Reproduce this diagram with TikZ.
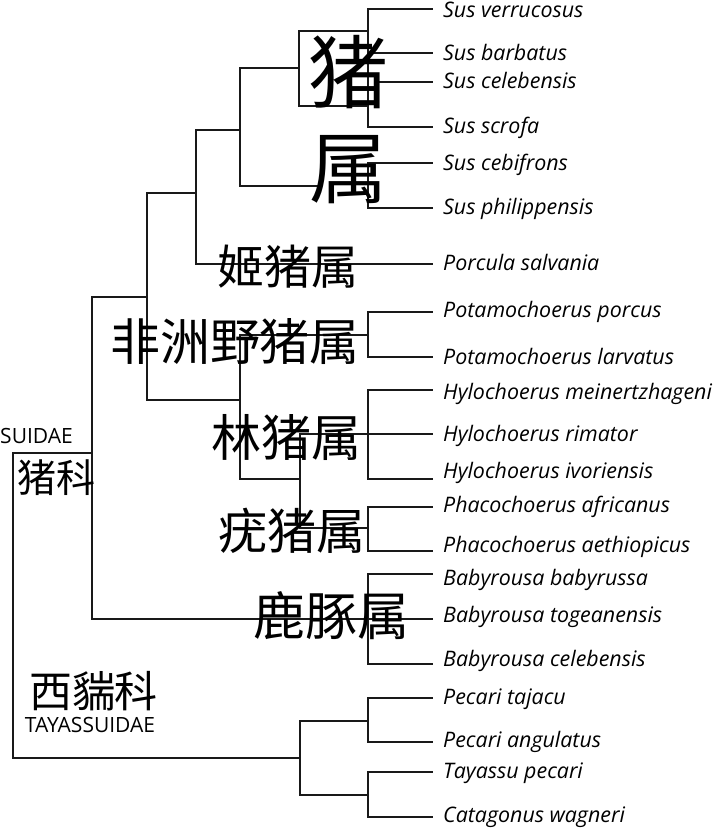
\documentclass[tikz,border=0pt]{standalone}
\usepackage{fontspec}
\setmainfont{Open Sans}
\newfontfamily\cjk{Noto Sans CJK SC}
\begin{document}
\begin{tikzpicture}[x=1pt,y=-1pt,
  br/.style={line width=1.3pt, draw=black!90, line cap=rect},
  sp/.style={anchor=base west, inner sep=0pt, font=\fontsize{21.4}{21.4}\selectfont\itshape},
  gen/.style={inner sep=0pt, anchor=center},
  fam/.style={inner sep=0pt, anchor=center, font=\fontsize{21}{21}\selectfont}]
\useasboundingbox (0,0) rectangle (720,828);
% leaf ends
\foreach \n/\y in {1/9,2/53,3/82,4/127,5/163,6/208,7/264,8/312,9/357,10/390,11/434,12/479,13/507,14/551,15/574,16/619,17/664,18/698,19/742,20/772,21/817}
  \coordinate (e\n) at (432,\y);
% labels
\node[sp] (l1) at (443,17) {Sus verrucosus};
\node[sp] (l2) at (443,60) {Sus barbatus};
\node[sp] (l3) at (443,88) {Sus celebensis};
\node[sp] (l4) at (443,133) {Sus scrofa};
\node[sp] (l5) at (443,170) {Sus cebifrons};
\node[sp] (l6) at (443,214) {Sus philippensis};
\node[sp] (l7) at (443,270) {Porcula salvania};
\node[sp] (l8) at (443,317) {Potamochoerus porcus};
\node[sp] (l9) at (443,364) {Potamochoerus larvatus};
\node[sp] (l10) at (443,399) {Hylochoerus meinertzhageni};
\node[sp] (l11) at (443,441) {Hylochoerus rimator};
\node[sp] (l12) at (443,478) {Hylochoerus ivoriensis};
\node[sp] (l13) at (443,512) {Phacochoerus africanus};
\node[sp] (l14) at (443,552) {Phacochoerus aethiopicus};
\node[sp] (l15) at (443,585) {Babyrousa babyrussa};
\node[sp] (l16) at (443,622) {Babyrousa togeanensis};
\node[sp] (l17) at (443,666) {Babyrousa celebensis};
\node[sp] (l18) at (443,704) {Pecari tajacu};
\node[sp] (l19) at (443,747) {Pecari angulatus};
\node[sp] (l20) at (443,778) {Tayassu pecari};
\node[sp] (l21) at (443,822) {Catagonus wagneri};
% internal coordinates
\coordinate (s1) at (368,9);
\coordinate (s4) at (368,127);
\coordinate (bxa) at (299,31);
\coordinate (bxb) at (368,106);
\coordinate (s2) at (370,53);
\coordinate (s3) at (380,82);
\coordinate (c5) at (368,163);
\coordinate (c6) at (368,208);
\coordinate (cm) at (318,186);
\coordinate (n240t) at (240,68);
\coordinate (n240b) at (240,186);
\coordinate (bxl) at (299,68);
\coordinate (n196t) at (196,130);
\coordinate (n196b) at (196,264);
\coordinate (n240m) at (240,130);
\coordinate (n147t) at (147,193);
\coordinate (n147b) at (147,400);
\coordinate (n196m) at (196,193);
\coordinate (p8) at (368,312);
\coordinate (p9) at (368,357);
\coordinate (pm) at (368,335);
\coordinate (n240c) at (240,335);
\coordinate (n240d) at (240,479);
\coordinate (n240e) at (240,400);
\coordinate (n300t) at (300,434);
\coordinate (n300b) at (300,528);
\coordinate (n300m) at (300,479);
\coordinate (h10) at (368,390);
\coordinate (h12) at (368,479);
\coordinate (f13) at (368,507);
\coordinate (f14) at (368,551);
\coordinate (fm) at (368,528);
\coordinate (n92t) at (92,297);
\coordinate (n92b) at (92,619);
\coordinate (n92m) at (92,453);
\coordinate (n147m) at (147,297);
\coordinate (b15) at (368,574);
\coordinate (b17) at (368,664);
\coordinate (r1) at (13,453);
\coordinate (r2) at (13,758);
\coordinate (t1) at (300,721);
\coordinate (t2) at (300,795);
\coordinate (t0) at (300,758);
\coordinate (q18) at (368,698);
\coordinate (q19) at (368,742);
\coordinate (qm1) at (368,721);
\coordinate (q20) at (368,772);
\coordinate (q21) at (368,817);
\coordinate (qm2) at (368,795);
% Sus
\draw[br] (s1) -- (s4);
\draw[br] (bxa) rectangle (bxb);
\draw[br] (s1) -- (e1);
\draw[br] (s2) -- (e2);
\draw[br] (s3) -- (e3);
\draw[br] (s4) -- (e4);
\draw[br] (c5) -- (c6);
\draw[br] (c5) -- (e5);
\draw[br] (c6) -- (e6);
\draw[br] (n240b) -- (cm);
\draw[br] (n240t) -- (n240b);
\draw[br] (n240t) -- (bxl);
\draw[br] (n196t) -- (n196b) -- (e7);
\draw[br] (n196t) -- (n240m);
\draw[br] (n147t) -- (n147b);
\draw[br] (n147t) -- (n196m);
% Potamochoerus
\draw[br] (p8) -- (p9);
\draw[br] (p8) -- (e8);
\draw[br] (p9) -- (e9);
\draw[br] (n240c) -- (pm);
\draw[br] (n240c) -- (n240d);
\draw[br] (n240e) -- (n147b);
\draw[br] (n300t) -- (n300b);
\draw[br] (n300m) -- (n240d);
\draw[br] (h10) -- (h12);
\draw[br] (h10) -- (e10);
\draw[br] (n300t) -- (e11);
\draw[br] (h12) -- (e12);
\draw[br] (f13) -- (f14);
\draw[br] (f13) -- (e13);
\draw[br] (f14) -- (e14);
\draw[br] (n300b) -- (fm);
% Babyrousa
\draw[br] (n92t) -- (n92b) -- (e16);
\draw[br] (n92t) -- (n147m);
\draw[br] (b15) -- (b17);
\draw[br] (b15) -- (e15);
\draw[br] (b17) -- (e17);
% root and Tayassuidae
\draw[br] (n92m) -- (r1) -- (r2) -- (t0);
\draw[br] (t1) -- (t2);
\draw[br] (t1) -- (qm1);
\draw[br] (t2) -- (qm2);
\draw[br] (q18) -- (q19);
\draw[br] (q18) -- (e18);
\draw[br] (q19) -- (e19);
\draw[br] (q20) -- (q21);
\draw[br] (q20) -- (e20);
\draw[br] (q21) -- (e21);
% genus labels
\node[gen, font=\fontsize{80}{80}\selectfont\cjk] (gzhu) at (348,72) {猪};
\node[gen, font=\fontsize{78}{78}\selectfont\cjk] (gshu) at (348,170) {属};
\node[gen, font=\fontsize{47}{47}\selectfont\cjk] (gji) at (287.5,267) {姬猪属};
\node[gen, font=\fontsize{50}{50}\selectfont\cjk] (gfz) at (235,342) {非洲野猪属};
\node[gen, font=\fontsize{50}{50}\selectfont\cjk] (glin) at (286.5,437) {林猪属};
\node[gen, font=\fontsize{49}{49}\selectfont\cjk] (gyou) at (291.5,531) {疣猪属};
\node[gen, font=\fontsize{52}{52}\selectfont\cjk] (glu) at (331,616) {鹿豚属};
% family labels
\node[fam] (suidae) at (36.5,436) {SUIDAE};
\node[gen, font=\fontsize{39}{39}\selectfont\cjk] (zhuke) at (56.5,478) {猪科};
\node[gen, font=\fontsize{43}{43}\selectfont\cjk] (xike) at (93.5,691) {西貒科};
\node[fam] (taya) at (90,725) {TAYASSUIDAE};
\end{tikzpicture}
\end{document}
